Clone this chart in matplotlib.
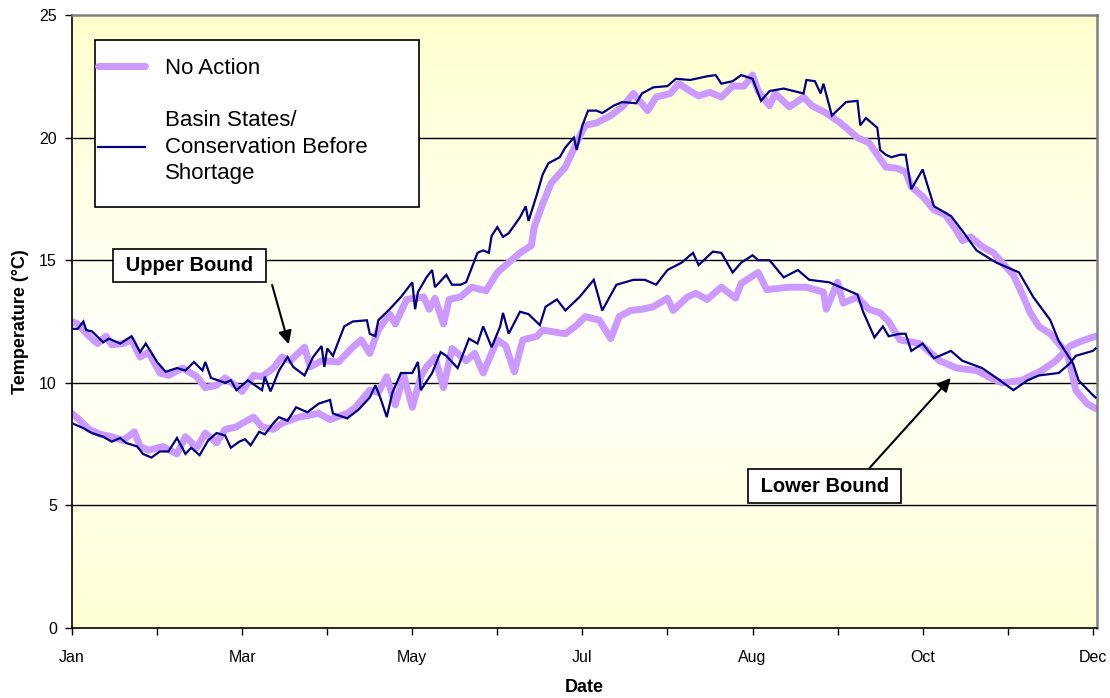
import numpy as np
import matplotlib.pyplot as plt
from matplotlib.colors import to_rgb
from matplotlib.patches import Rectangle

plt.rcParams['font.family'] = ['Liberation Sans', 'DejaVu Sans']

# Daily water temperature, day of year vs degrees C

upper_na_day = [0, 2, 6, 9, 12, 14, 18, 21, 24, 27, 31, 34, 39, 44, 47, 51, 54, 58, 60, 64,
                67, 71, 74, 77, 82, 84, 88, 94, 99, 102, 105, 108, 112, 114, 118, 124, 126, 128, 131, 133,
                137, 141, 146, 150, 152, 158, 162, 163, 166, 169, 174, 178, 181, 185, 190, 194, 198, 203, 206, 211,
                214, 218, 221, 225, 229, 233, 237, 240, 242, 246, 248, 253, 258, 261, 266, 271, 277, 281, 287, 291,
                294, 296, 300, 304, 308, 312, 314, 317, 321, 325, 328, 332, 335, 338, 341, 345, 348, 351, 353, 354,
                358, 361]
upper_na_temp = [12.5, 12.4, 11.9, 11.6, 11.9, 11.55, 11.6, 11.75, 11.05, 11.25, 10.4, 10.3, 10.6, 10.25, 9.8, 9.9, 10.2, 9.85, 9.65, 10.3,
                 10.25, 10.6, 11.05, 10.9, 11.45, 10.65, 10.9, 10.85, 11.45, 11.75, 11.2, 12.15, 12.8, 12.4, 13.4, 13.5, 13.0, 13.45, 12.4, 13.4,
                 13.5, 13.9, 13.75, 14.5, 14.7, 15.3, 15.6, 16.35, 17.3, 18.15, 18.8, 19.8, 20.5, 20.6, 20.9, 21.25, 21.8, 21.1, 21.65, 21.8,
                 22.2, 21.9, 21.7, 21.85, 21.65, 22.1, 22.1, 22.55, 21.9, 21.3, 21.8, 21.25, 21.65, 21.3, 21.0, 20.6, 20.0, 19.8, 18.8, 18.75,
                 18.6, 18.0, 17.6, 17.05, 16.85, 16.2, 15.8, 15.95, 15.55, 15.3, 14.9, 14.4, 13.65, 12.85, 12.3, 12.0, 11.6, 11.2, 10.25, 9.7,
                 9.15, 8.95]

upper_bs_day = [0, 2, 4, 5, 7, 11, 13, 17, 21, 24, 26, 30, 33, 37, 40, 43, 46, 47, 49, 54,
                56, 58, 62, 67, 68, 70, 73, 76, 78, 82, 85, 88, 89, 90, 92, 96, 99, 104, 105, 107,
                108, 112, 116, 120, 121, 122, 125, 127, 128, 132, 134, 137, 139, 141, 143, 145, 147, 148, 150, 152,
                154, 158, 160, 161, 164, 166, 168, 172, 174, 177, 178, 180, 182, 185, 187, 191, 194, 199, 201, 205,
                210, 213, 218, 224, 227, 229, 233, 236, 240, 243, 246, 251, 258, 259, 262, 264, 265, 268, 273, 277,
                278, 280, 284, 285, 287, 289, 292, 294, 296, 300, 304, 310, 314, 319, 326, 334, 339, 345, 348, 353,
                355, 360, 361]
upper_bs_temp = [12.2, 12.2, 12.5, 12.15, 12.1, 11.65, 11.8, 11.6, 11.9, 11.25, 11.6, 10.85, 10.45, 10.6, 10.5, 10.85, 10.5, 10.85, 10.2, 10.0,
                 10.1, 9.7, 10.1, 9.7, 10.25, 9.65, 10.5, 11.05, 10.65, 10.3, 11.05, 11.5, 10.65, 11.4, 11.1, 12.3, 12.5, 12.55, 12.0, 11.9,
                 12.55, 13.0, 13.5, 14.1, 13.0, 13.7, 14.3, 14.6, 13.9, 14.4, 14.0, 14.0, 14.1, 14.7, 15.3, 15.4, 15.3, 16.0, 16.35, 15.95,
                 16.1, 16.75, 17.2, 16.6, 17.7, 18.5, 18.95, 19.2, 19.6, 20.0, 19.5, 20.5, 21.1, 21.1, 21.0, 21.3, 21.45, 21.4, 21.8, 22.05,
                 22.1, 22.4, 22.35, 22.5, 22.55, 22.2, 22.3, 22.55, 22.4, 21.5, 21.9, 22.0, 21.8, 22.35, 22.3, 21.8, 22.2, 20.9, 21.45, 21.5,
                 20.5, 20.8, 20.4, 19.5, 19.3, 19.2, 19.3, 19.3, 17.9, 18.7, 17.2, 16.8, 16.2, 15.4, 14.9, 14.5, 13.5, 12.56, 11.7, 10.8,
                 10.1, 9.5, 9.4]

lower_na_day = [0, 2, 6, 10, 14, 18, 22, 24, 27, 32, 37, 40, 44, 47, 51, 54, 58, 60, 64, 67,
                71, 74, 80, 87, 91, 97, 100, 105, 108, 111, 114, 117, 120, 123, 125, 127, 128, 131, 134, 139,
                142, 145, 150, 153, 156, 159, 164, 166, 174, 178, 181, 186, 190, 193, 197, 201, 205, 210, 212, 217,
                220, 224, 229, 234, 236, 242, 245, 253, 259, 265, 266, 270, 272, 277, 281, 285, 288, 292, 299, 306,
                312, 319, 324, 328, 335, 342, 347, 352, 356, 361]
lower_na_temp = [8.75, 8.55, 8.1, 7.9, 7.8, 7.65, 8.0, 7.4, 7.25, 7.4, 7.1, 7.8, 7.35, 7.95, 7.55, 8.1, 8.2, 8.35, 8.6, 8.2,
                 8.1, 8.35, 8.6, 8.75, 8.5, 8.75, 9.0, 9.7, 9.6, 10.25, 9.1, 10.3, 9.0, 10.25, 10.65, 10.9, 11.05, 9.8, 11.4, 10.9,
                 11.2, 10.4, 11.75, 11.5, 10.45, 11.75, 11.9, 12.15, 12.0, 12.35, 12.7, 12.55, 11.8, 12.7, 12.95, 13.0, 13.1, 13.45, 12.95, 13.5,
                 13.65, 13.4, 13.9, 13.45, 14.05, 14.5, 13.8, 13.9, 13.9, 13.7, 13.0, 14.1, 13.25, 13.5, 13.0, 12.85, 12.5, 11.75, 11.6, 10.9,
                 10.6, 10.5, 10.2, 10.0, 10.1, 10.5, 10.9, 11.5, 11.7, 11.9]

lower_bs_day = [0, 4, 7, 11, 14, 17, 19, 23, 25, 28, 31, 34, 37, 40, 42, 45, 48, 51, 54, 56,
                59, 61, 63, 66, 68, 71, 73, 76, 79, 83, 87, 91, 92, 97, 101, 105, 107, 109, 111, 113,
                116, 120, 122, 123, 127, 130, 132, 136, 140, 143, 145, 148, 151, 152, 154, 158, 161, 165, 167, 171,
                174, 179, 184, 187, 192, 198, 202, 206, 210, 215, 219, 221, 226, 229, 233, 236, 240, 242, 246, 251,
                256, 260, 267, 273, 277, 279, 283, 286, 288, 292, 294, 296, 300, 304, 310, 314, 321, 326, 332, 337,
                341, 348, 352, 354, 360, 361]
lower_bs_temp = [8.35, 8.15, 7.95, 7.8, 7.6, 7.75, 7.55, 7.4, 7.1, 6.95, 7.2, 7.2, 7.75, 7.1, 7.35, 7.05, 7.65, 7.95, 7.85, 7.35,
                 7.6, 7.7, 7.45, 8.0, 7.9, 8.35, 8.6, 8.45, 9.0, 8.8, 9.15, 9.3, 8.75, 8.55, 8.9, 9.4, 9.9, 9.3, 8.6, 9.6,
                 10.4, 10.4, 10.85, 9.7, 10.4, 11.25, 11.1, 10.6, 11.8, 11.6, 12.3, 11.45, 12.3, 12.85, 12.0, 12.9, 12.8, 12.35, 13.1, 13.4,
                 12.95, 13.5, 14.2, 12.95, 14.0, 14.2, 14.2, 14.0, 14.6, 14.9, 15.3, 14.8, 15.35, 15.3, 14.5, 14.9, 15.2, 15.0, 15.0, 14.3,
                 14.6, 14.2, 14.1, 13.8, 13.6, 12.9, 11.85, 12.3, 11.9, 12.0, 12.0, 11.3, 11.6, 11.0, 11.3, 10.9, 10.6, 10.2, 9.7, 10.1,
                 10.3, 10.4, 10.8, 11.1, 11.3, 11.4]

tick_days = np.arange(0, 361, 30)
tick_names = ['Jan', '', 'Mar', '', 'May', '', 'Jul', '', 'Aug', '', 'Oct', '', 'Dec']
y_ticks = [0, 5, 10, 15, 20, 25]

purple = '#CC99FF'
navy = '#000080'

fig = plt.figure(figsize=(11.1, 6.98), dpi=100)
ax = fig.add_axes([0.0649, 0.1003, 0.9234, 0.8782])

x_max = 361.5

# yellow-white-yellow background like the Excel plot area
yellow = np.array(to_rgb('#FFFFCC'))
pale = np.array(to_rgb('#FFFFF8'))
t = np.linspace(0, 1, 256)
w = np.clip(np.abs(t - 0.46) / 0.54, 0, 1) ** 1.2
grad = pale + (yellow - pale) * w[:, None]
ax.imshow(grad[:, None, :], extent=[0, x_max, 0, 25], origin='lower', aspect='auto', zorder=0)

for yv in y_ticks[1:-1]:
    ax.axhline(yv, color='black', lw=1.0, zorder=1)

kw_na = dict(color=purple, lw=5.0, solid_capstyle='round', solid_joinstyle='round', zorder=2)
kw_bs = dict(color=navy, lw=1.6, solid_joinstyle='miter', zorder=3)
ax.plot(upper_na_day, upper_na_temp, label='No Action', **kw_na)
ax.plot(lower_na_day, lower_na_temp, **kw_na)
ax.plot(upper_bs_day, upper_bs_temp, label='Basin States/\nConservation Before\nShortage', **kw_bs)
ax.plot(lower_bs_day, lower_bs_temp, **kw_bs)

ax.set_xlim(0, x_max)
ax.set_ylim(0, 25)
ax.set_xticks(tick_days)
ax.set_xticklabels(tick_names)
ax.set_yticks(y_ticks)
ax.tick_params(axis='both', direction='out', length=5, width=1, labelsize=11.5, pad=6)
ax.tick_params(axis='x', pad=11)

for side in ['top', 'right']:
    ax.spines[side].set_color('#808080')
    ax.spines[side].set_linewidth(1.8)
for side in ['left', 'bottom']:
    ax.spines[side].set_color('black')
    ax.spines[side].set_linewidth(1.2)

ax.set_xlabel('Date', fontsize=13, fontweight='bold', labelpad=10)
ax.set_ylabel('Temperature (°C)', fontsize=13, fontweight='bold', labelpad=7)

# legend frame drawn separately so it can be wider/taller than its content
ax.add_patch(Rectangle((0.0224, 0.6868), 0.3161, 0.2724, transform=ax.transAxes,
                       facecolor='white', edgecolor='black', lw=1.2, zorder=4))
leg = ax.legend(loc='upper left', bbox_to_anchor=(0.0254, 0.930), frameon=False,
                fontsize=16, borderpad=0, labelspacing=1.4, handlelength=2.1,
                handletextpad=0.9, borderaxespad=0)
leg.set_zorder(5)
for txt in leg.get_texts():
    txt.set_linespacing(1.35)

box = dict(boxstyle='square,pad=0.35', fc='white', ec='black', lw=1.2)
ax.text(41.5, 14.8, ' Upper Bound ', fontsize=14.5, fontweight='bold', ha='center', va='center', bbox=box, zorder=5)
ax.annotate('', xy=(76.7, 11.46), xytext=(70.3, 14.1),
            arrowprops=dict(arrowstyle='-|>', color='black', lw=1.5, mutation_scale=20), zorder=5)
ax.text(265.4, 5.79, ' Lower Bound ', fontsize=14.5, fontweight='bold', ha='center', va='center', bbox=box, zorder=5)
ax.annotate('', xy=(310.6, 10.28), xytext=(280.6, 6.44),
            arrowprops=dict(arrowstyle='-|>', color='black', lw=1.5, mutation_scale=20), zorder=5)

fig.savefig('out.png', dpi=100)
